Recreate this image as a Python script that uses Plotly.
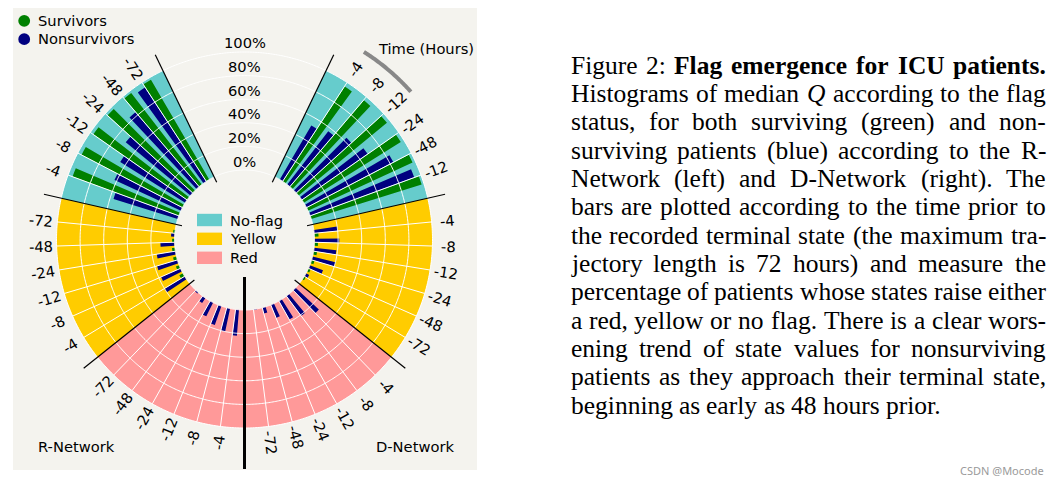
import numpy as np
import plotly.graph_objects as go

W, H = 1061, 485
PAGE_OFF = 8.0   # the page places the figure 8 px in from the top-left corner

# ------------------------------------------------------------------ data
flags = ["No-flag", "Yellow", "Red"]
flag_colors = ["#66cccc", "#ffcc00", "#ff9999"]
surv_color = "#008000"
nons_color = "#000080"

# R-Network (bins run counter-clockwise inside each flag sector)
r_times = ["-72", "-48", "-24", "-12", "-8", "-4"]
r_surv_noflag = [98, 98, 97.5, 97, 96.5, 96]
r_surv_yellow = [1.5, 2, 2.5, 3, 3, 3.5]
r_surv_red = [0, 0, 0, 0, 0, 0]
r_nons_noflag = [95, 83, 71, 65, 62, 57]
r_nons_yellow = [3, 12, 16, 18, 18, 20]
r_nons_red = [1, 5, 13, 17, 20, 22]

# D-Network (bins run clockwise inside each flag sector)
d_times = ["-4", "-8", "-12", "-24", "-48", "-72"]
d_noflag_ticks = ["-4", "-8", "-12", "-24", "-48", "-12"]   # as printed
d_surv_noflag = [96, 96.5, 97, 97, 97.5, 98]
d_surv_yellow = [3.5, 3, 3, 2.5, 2, 1.5]
d_surv_red = [0, 0, 0, 0, 0, 0]
d_nons_noflag = [53, 57, 63, 68, 83, 94]
d_nons_yellow = [20, 21, 19, 20, 12, 3]
d_nons_red = [27, 21, 18, 12, 5, 0.5]

radial_ticks = [0, 20, 40, 60, 80, 100]

caption = [
    "Figure 2: <b>Flag</b> <b>emergence</b> <b>for</b> <b>ICU</b> <b>patients.</b>",
    "Histograms of median <i>Q</i> according to the flag",
    "status, for both surviving (green) and non-",
    "surviving patients (blue) according to the R-",
    "Network (left) and D-Network (right). The",
    "bars are plotted according to the time prior to",
    "the recorded terminal state (the maximum tra-",
    "jectory length is 72 hours) and measure the",
    "percentage of patients whose states raise either",
    "a red, yellow or no flag. There is a clear wors-",
    "ening trend of state values for nonsurviving",
    "patients as they approach their terminal state,",
    "beginning as early as 48 hours prior.",
]

# ------------------------------------------------------------------ geometry (screen px)
CX, CY = 244.5, 240.0        # centre of the polar plot
R0, K = 70.0, 1.18           # px radius of 0 %, px per percent
RMIN, RMAX = -30.0, 136.0
ROUT = R0 + K * RMAX
HOLE = (R0 + K * RMIN) / ROUT

SECTOR = 360.0 / 7
SLOT = SECTOR / 7
OFF, BW = 1.45, 2.7
BG = "#f4f3ee"
FONT = "DejaVu Sans"


def px_of(r, th):
    rp = R0 + K * r
    t = np.radians(th)
    return CX + rp * np.cos(t), CY - rp * np.sin(t)


def px(x):
    return (x - PAGE_OFF) / W


def py(y):
    return 1 - (y - PAGE_OFF) / H


# sector boundaries
r_start = {"No-flag": -90 + 4 * SECTOR, "Yellow": -90 + 5 * SECTOR, "Red": -90 + 6 * SECTOR}
d_end = {"No-flag": -90 + 3 * SECTOR, "Yellow": -90 + 2 * SECTOR, "Red": -90 + 1 * SECTOR}

r_surv = {"No-flag": r_surv_noflag, "Yellow": r_surv_yellow, "Red": r_surv_red}
r_nons = {"No-flag": r_nons_noflag, "Yellow": r_nons_yellow, "Red": r_nons_red}
d_surv = {"No-flag": d_surv_noflag, "Yellow": d_surv_yellow, "Red": d_surv_red}
d_nons = {"No-flag": d_nons_noflag, "Yellow": d_nons_yellow, "Red": d_nons_red}

centers, surv_vals, nons_vals, tick_txt = [], [], [], []
for f in flags:
    for j, t in enumerate(r_times):
        centers.append(r_start[f] + SLOT * (j + 1))
        surv_vals.append(r_surv[f][j])
        nons_vals.append(r_nons[f][j])
        tick_txt.append(t)
    for j, t in enumerate(d_times):
        centers.append(d_end[f] - SLOT * (j + 1))
        surv_vals.append(d_surv[f][j])
        nons_vals.append(d_nons[f][j])
        tick_txt.append(d_noflag_ticks[j] if f == "No-flag" else t)
centers = np.array(centers)

fig = go.Figure()

# flag background sectors
bg_theta, bg_col = [], []
for f, c in zip(flags, flag_colors):
    bg_theta += [r_start[f] + SECTOR / 2, d_end[f] - SECTOR / 2]
    bg_col += [c, c]
fig.add_trace(go.Barpolar(theta=bg_theta, r=[100] * len(bg_theta), base=0,
                          width=SECTOR, marker=dict(color=bg_col, line=dict(width=0)),
                          showlegend=False, hoverinfo="skip"))

fig.add_trace(go.Barpolar(theta=centers - OFF, r=surv_vals, base=0, width=BW,
                          marker=dict(color=surv_color, line=dict(width=0)),
                          name="Survivors", showlegend=False))
fig.add_trace(go.Barpolar(theta=centers + OFF, r=nons_vals, base=0, width=BW,
                          marker=dict(color=nons_color, line=dict(width=0)),
                          name="Nonsurvivors", showlegend=False))

# white grid circles
ring = np.linspace(0, 360, 721)
gr, gt = [], []
for v in radial_ticks:
    gr += [v] * len(ring) + [None]
    gt += list(ring) + [None]
fig.add_trace(go.Scatterpolar(r=gr, theta=gt, mode="lines",
                              line=dict(color="white", width=1), showlegend=False, hoverinfo="skip"))
# white radial lines at bin centres
sr, st = [], []
for c in centers:
    sr += [0, 100, None]
    st += [c, c, None]
fig.add_trace(go.Scatterpolar(r=sr, theta=st, mode="lines",
                              line=dict(color="white", width=1), showlegend=False, hoverinfo="skip"))
# black sector boundaries
br, bt = [], []
for b in [r_start["No-flag"], r_start["Yellow"], r_start["Red"],
          d_end["No-flag"], d_end["Yellow"], d_end["Red"]]:
    br += [-5, 115, None]
    bt += [b, b, None]
fig.add_trace(go.Scatterpolar(r=br, theta=bt, mode="lines",
                              line=dict(color="black", width=1.2), showlegend=False, hoverinfo="skip"))
# thick divider between networks
fig.add_trace(go.Scatterpolar(r=[-28, 134.7], theta=[270, 270], mode="lines",
                              line=dict(color="black", width=3), showlegend=False, hoverinfo="skip"))
# time arrow arc
arc = np.linspace(41.7, 57.6, 40)
fig.add_trace(go.Scatterpolar(r=[129.5] * len(arc), theta=arc, mode="lines",
                              line=dict(color="#888888", width=4), showlegend=False, hoverinfo="skip"))

ann = []


def label(x, y, text, anchor="left", size=14.7, family=FONT, color="black", angle=0):
    ann.append(dict(x=px(x), y=py(y), xref="paper", yref="paper", text=text, showarrow=False,
                    xanchor=anchor, yanchor="middle", borderpad=0, textangle=angle,
                    font=dict(family=family, size=size, color=color)))


# time tick labels
for c, t in zip(centers, tick_txt):
    x, y = px_of(113.6, c)
    th = ((c + 180) % 360) - 180
    ang = -th if np.cos(np.radians(th)) > 0 else -(th - 180)
    label(x, y, t, "center", angle=ang)
# radial labels
for v in radial_ticks:
    x, y = px_of(v, 90)
    label(x, y - 9, f"{v}%", "center")

label(426, 48, "Time (Hours)", "center")
label(36.7, 446.7, "R-Network")
label(375, 446.5, "D-Network")
label(36.7, 20, "Survivors")
label(36.7, 39, "Nonsurvivors")
legend_y = [220, 238.8, 257.8]
for f, yy in zip(flags, legend_y):
    label(229, yy, f)

shapes = [dict(type="rect", xref="paper", yref="paper",
               x0=px(13), x1=px(477), y0=py(470), y1=py(8),
               fillcolor=BG, line=dict(width=0), layer="below")]
for c, yy in zip(flag_colors, legend_y):
    shapes.append(dict(type="rect", xref="paper", yref="paper",
                       x0=px(197), x1=px(222), y0=py(yy + 6.2), y1=py(yy - 6.2),
                       fillcolor=c, line=dict(width=0), layer="above"))
for c, yy in zip([surv_color, nons_color], [20.8, 39.2]):
    shapes.append(dict(type="circle", xref="paper", yref="paper",
                       x0=px(24.2 - 5.9), x1=px(24.2 + 5.9),
                       y0=py(yy + 5.9), y1=py(yy - 5.9),
                       fillcolor=c, line=dict(width=0), layer="above"))

# ------------------------------------------------------------------ caption (justified)
TR = {" ": 250, "!": 333, "(": 333, ")": 333, ",": 250, "-": 333, ".": 250, ":": 278,
      "A": 722, "B": 667, "C": 667, "D": 722, "E": 611, "F": 556, "G": 722, "H": 722,
      "I": 333, "N": 722, "Q": 722, "R": 667, "T": 611, "U": 722,
      "a": 444, "b": 500, "c": 444, "d": 500, "e": 444, "f": 333, "g": 500, "h": 500,
      "i": 278, "j": 278, "k": 500, "l": 278, "m": 778, "n": 500, "o": 500, "p": 500,
      "q": 500, "r": 333, "s": 389, "t": 278, "u": 500, "v": 500, "w": 722, "x": 500,
      "y": 500, "z": 444}
TB = {".": 250, "F": 611, "I": 389, "C": 722, "U": 722, "a": 500, "c": 444, "e": 444,
      "f": 333, "g": 500, "i": 278, "l": 278, "m": 833, "n": 556, "o": 500, "p": 556,
      "r": 444, "s": 389, "t": 333}
CAP_FS = 25.5
CAP_X0, CAP_X1 = 569.5, 1045.0
CAP_Y0, CAP_DY = 65.0, 28.35


def word_width(w):
    if w.startswith("<b>"):
        s, table = w[3:-4], TB
    elif w.startswith("<i>"):
        s, table = w[3:-4], TR
    else:
        s, table = w, TR
    return sum(table.get(ch, 500) for ch in s) * CAP_FS / 1000


for i, line in enumerate(caption):
    words = line.split()
    widths = [word_width(w) for w in words]
    last = i == len(caption) - 1
    gap = 0.25 * CAP_FS if last else (CAP_X1 - CAP_X0 - sum(widths)) / (len(words) - 1)
    x = CAP_X0
    y = CAP_Y0 + i * CAP_DY
    for w, ww in zip(words, widths):
        label(x, y, w, "left", CAP_FS, "Liberation Serif")
        x += ww + gap

label(1045, 470, "CSDN @Mocode", "right", 11, "Noto Sans", "#9a9a9a")

fig.update_layout(
    width=W, height=H, margin=dict(l=0, r=0, t=0, b=0),
    paper_bgcolor="white", plot_bgcolor="white",
    showlegend=False,
    polar=dict(
        domain=dict(x=[px(CX - ROUT), px(CX + ROUT)],
                    y=[py(CY + ROUT), py(CY - ROUT)]),
        hole=HOLE, bgcolor="rgba(0,0,0,0)", barmode="overlay",
        radialaxis=dict(range=[RMIN, RMAX], visible=False),
        angularaxis=dict(visible=False, direction="counterclockwise", rotation=0),
    ),
    annotations=ann, shapes=shapes,
)

fig.write_html("out.html")
